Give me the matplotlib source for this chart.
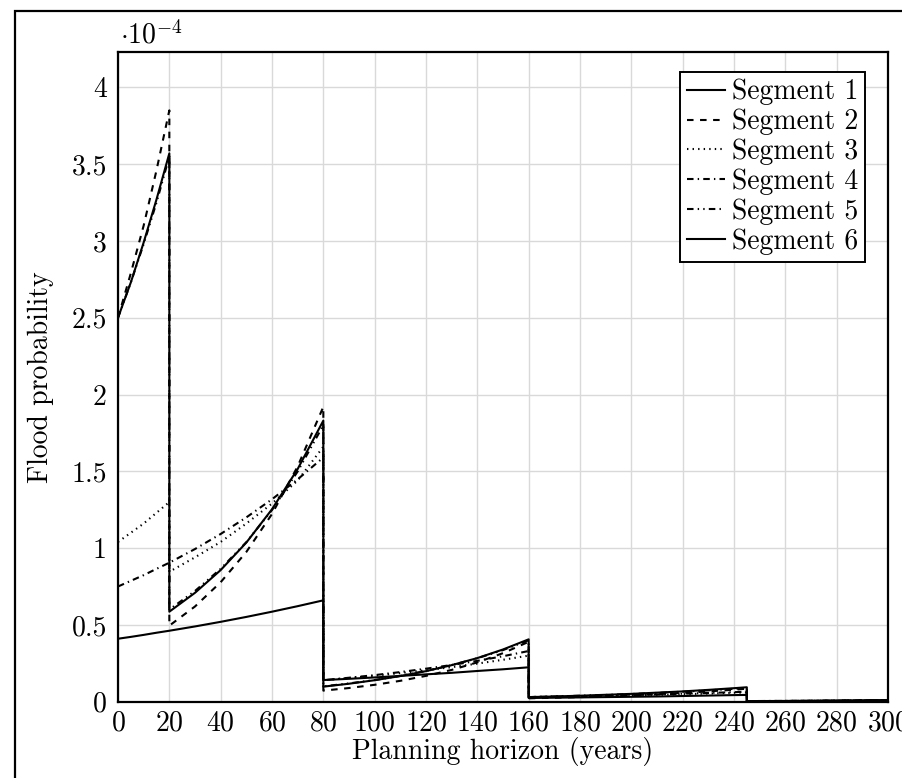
import matplotlib
matplotlib.use("Agg")
import matplotlib.pyplot as plt
from matplotlib.patches import Rectangle

# 年（更新時点で値が飛ぶので同じ年を2回入れる）
years = [0, 5, 10, 15, 20,
         20, 30, 40, 50, 60, 70, 80,
         80, 90, 100, 110, 120, 130, 140, 150, 160,
         160, 170, 180, 190, 200, 210, 220, 230, 240, 245,
         245, 250, 260, 270, 280, 290, 300]

# 浸水確率 (x 1e-4)
seg1 = [2.50, 2.73, 2.99, 3.27, 3.57,
        0.586, 0.709, 0.857, 1.036, 1.253, 1.515, 1.83,
        0.098, 0.117, 0.140, 0.167, 0.199, 0.238, 0.284, 0.340, 0.406,
        0.030, 0.034, 0.039, 0.045, 0.051, 0.059, 0.067, 0.077, 0.088, 0.094,
        0.003, 0.0035, 0.0045, 0.0056, 0.007, 0.0088, 0.011]
seg2 = [2.50, 2.79, 3.10, 3.46, 3.85,
        0.495, 0.620, 0.778, 0.975, 1.222, 1.532, 1.92,
        0.072, 0.089, 0.110, 0.136, 0.168, 0.207, 0.256, 0.316, 0.390,
        0.022, 0.026, 0.030, 0.035, 0.042, 0.049, 0.057, 0.067, 0.078, 0.085,
        0.002, 0.0025, 0.0033, 0.0044, 0.0058, 0.0077, 0.010]
seg3 = [1.04, 1.10, 1.16, 1.23, 1.30,
        0.846, 0.94, 1.04, 1.16, 1.29, 1.44, 1.66,
        0.140, 0.154, 0.169, 0.186, 0.205, 0.225, 0.248, 0.273, 0.300,
        0.030, 0.033, 0.035, 0.038, 0.042, 0.045, 0.049, 0.053, 0.058, 0.060,
        0.004, 0.0043, 0.005, 0.0058, 0.0067, 0.0078, 0.009]
seg4 = [0.750, 0.787, 0.824, 0.865, 0.905,
        0.905, 0.994, 1.092, 1.200, 1.318, 1.448, 1.59,
        0.140, 0.156, 0.173, 0.193, 0.215, 0.239, 0.266, 0.296, 0.330,
        0.030, 0.033, 0.036, 0.039, 0.043, 0.047, 0.052, 0.057, 0.062, 0.065,
        0.004, 0.0044, 0.0052, 0.006, 0.007, 0.0082, 0.0095]
seg5 = [2.50, 2.73, 2.98, 3.25, 3.55,
        0.600, 0.721, 0.865, 1.039, 1.248, 1.499, 1.80,
        0.100, 0.119, 0.141, 0.168, 0.200, 0.238, 0.283, 0.336, 0.400,
        0.030, 0.034, 0.039, 0.044, 0.050, 0.057, 0.065, 0.074, 0.084, 0.088,
        0.003, 0.0034, 0.0043, 0.0054, 0.0068, 0.0086, 0.011]
seg6 = [0.410, 0.422, 0.435, 0.449, 0.462,
        0.462, 0.490, 0.520, 0.552, 0.586, 0.622, 0.660,
        0.141, 0.149, 0.158, 0.168, 0.178, 0.188, 0.200, 0.211, 0.224,
        0.024, 0.026, 0.028, 0.030, 0.032, 0.034, 0.037, 0.040, 0.043, 0.044,
        0.004, 0.0043, 0.0048, 0.0054, 0.006, 0.007, 0.008]

labels = ["Segment 1", "Segment 2", "Segment 3", "Segment 4", "Segment 5", "Segment 6"]
series = [seg1, seg2, seg3, seg4, seg5, seg6]
dash_list = [None, (4.7, 4.7), (1.0, 3.0), (4.7, 3.0, 1.0, 3.0),
             (4.7, 3.0, 1.0, 3.0, 1.0, 3.0), None]

FS = 20
plt.rcParams["font.family"] = "serif"
plt.rcParams["font.serif"] = ["cmr10", "DejaVu Serif"]
plt.rcParams["mathtext.fontset"] = "cm"
plt.rcParams["axes.formatter.use_mathtext"] = True
plt.rcParams["lines.scale_dashes"] = False
plt.rcParams["font.size"] = FS

fig = plt.figure(figsize=(9.03, 7.78), dpi=100)
ax = fig.add_axes([118 / 903, 1 - 701.7 / 778, 770 / 903, 649.7 / 778])

for vals, lab, d in zip(series, labels, dash_list):
    line, = ax.plot(years, vals, color="black", lw=1.5, label=lab)
    if d is not None:
        line.set_dashes(d)

ax.set_xlim(0, 300)
ax.set_ylim(0, 4.23)
ax.set_xticks(range(0, 301, 20))
ax.set_yticks([0, 0.5, 1, 1.5, 2, 2.5, 3, 3.5, 4])
ax.set_yticklabels(["0", "0.5", "1", "1.5", "2", "2.5", "3", "3.5", "4"])
ax.grid(True, color="#d9d9d9", lw=1.0)
ax.set_axisbelow(True)
ax.tick_params(length=0, labelsize=FS)
ax.tick_params(axis="x", pad=6)
ax.tick_params(axis="y", pad=8)
for s in ax.spines.values():
    s.set_linewidth(1.6)

ax.set_xlabel("Planning horizon (years)", fontsize=FS)
ax.set_ylabel("Flood probability", fontsize=FS)
ax.xaxis.set_label_coords(0.5, -0.055)
ax.yaxis.set_label_coords(-0.083, 0.5)

fig.text(120 / 903, 1 - 43 / 778, r"$\cdot 10^{-4}$", fontsize=FS, va="baseline")

leg = ax.legend(loc="upper right", bbox_to_anchor=(865 / 903, 1 - 72 / 778),
                bbox_transform=fig.transFigure, fancybox=False, framealpha=1,
                edgecolor="black", handlelength=1.35, handletextpad=0.25,
                labelspacing=0.12, borderpad=0.25, borderaxespad=0,
                fontsize=FS)
leg.get_frame().set_linewidth(1.4)

# 外枠
fig.add_artist(Rectangle((15 / 903, -0.1), 1.2, 1 - 11 / 778 + 0.1,
                         transform=fig.transFigure, fill=False,
                         edgecolor="black", lw=1.6, clip_on=False))

fig.savefig("out.png", dpi=100)
